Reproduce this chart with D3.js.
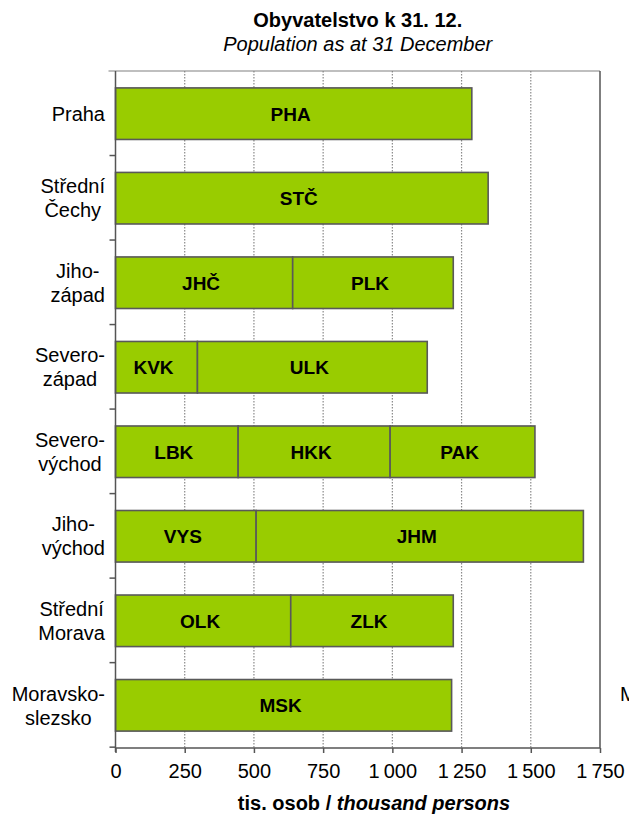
<!DOCTYPE html>
<html>
<head>
  <meta charset="utf-8">
  <title>Obyvatelstvo</title>
  <script src="https://d3js.org/d3.v7.min.js"></script>
  <style>
    body { margin: 0; background: #fff; }
    text { font-family: "Liberation Sans", Arial, sans-serif; fill: #000; }
  </style>
</head>
<body>
  <div id="container"></div>
  <script>
    // regions (NUTS 2) and their kraje, thousand persons
    var regionLines = [
      ['Praha'], ['Střední', 'Čechy'], ['Jiho-', 'západ'], ['Severo-', 'západ'],
      ['Severo-', 'východ'], ['Jiho-', 'východ'], ['Střední', 'Morava'], ['Moravsko-', 'slezsko']
    ];
    var kraje = [
      ['PHA'], ['STČ'], ['JHČ', 'PLK'], ['KVK', 'ULK'],
      ['LBK', 'HKK', 'PAK'], ['VYS', 'JHM'], ['OLK', 'ZLK'], ['MSK']
    ];
    var values = [
      [1287], [1346], [640, 580], [296, 830],
      [443, 549, 523], [508, 1182], [633, 587], [1214]
    ];
    var xTicks = [0, 250, 500, 750, 1000, 1250, 1500, 1750];

    var width = 629, height = 816;
    var plotLeft = 115.5, plotRight = 600, plotTop = 71, plotBottom = 748;

    var svg = d3.select('#container').append('svg')
      .attr('width', width)
      .attr('height', height);

    var x = d3.scaleLinear().domain([0, 1750]).range([plotLeft, plotRight]);
    var y = d3.scaleBand().domain(d3.range(regionLines.length))
      .range([plotTop, plotBottom]).paddingInner(0.39).paddingOuter(0.2);

    var fmt = d3.formatLocale({decimal: ',', thousands: '\u2009', grouping: [3], currency: ['', '']}).format(',d');

    // grid
    svg.append('g').selectAll('line')
      .data(xTicks.slice(1, -1))
      .enter().append('line')
      .attr('x1', d => x(d)).attr('x2', d => x(d))
      .attr('y1', plotTop).attr('y2', plotBottom)
      .attr('stroke', '#8a8a8a')
      .attr('stroke-width', 1.2)
      .attr('stroke-dasharray', '1.5,1.5');

    // frame top + right
    svg.append('line')
      .attr('x1', plotLeft - 7).attr('x2', plotRight)
      .attr('y1', plotTop).attr('y2', plotTop)
      .attr('stroke', '#808080')
      .attr('stroke-width', 1.2);
    svg.append('line')
      .attr('x1', plotRight).attr('x2', plotRight)
      .attr('y1', plotTop).attr('y2', plotBottom)
      .attr('stroke', '#555')
      .attr('stroke-width', 1.5);

    // stacked bars
    var rows = svg.append('g').selectAll('g')
      .data(values)
      .enter().append('g');

    rows.each(function(vals, i) {
      var g = d3.select(this);
      var segs = [], acc = 0;
      vals.forEach(function(v, j) {
        segs.push({x0: acc, x1: acc + v, name: kraje[i][j]});
        acc += v;
      });
      g.selectAll('rect').data(segs).enter().append('rect')
        .attr('x', d => x(d.x0))
        .attr('y', y(i))
        .attr('width', d => x(d.x1) - x(d.x0))
        .attr('height', y.bandwidth())
        .attr('fill', '#99cc00')
        .attr('stroke', '#595959')
        .attr('stroke-width', 1.6);
      g.selectAll('text').data(segs).enter().append('text')
        .attr('x', d => (x(d.x0) + x(d.x1)) / 2 - 3)
        .attr('y', y(i) + y.bandwidth() / 2)
        .attr('dy', '0.36em')
        .attr('text-anchor', 'middle')
        .style('font-size', '19px')
        .style('font-weight', 'bold')
        .text(d => d.name);
    });

    // y axis
    var yAxis = svg.append('g');
    yAxis.append('line')
      .attr('x1', plotLeft).attr('x2', plotLeft)
      .attr('y1', plotTop).attr('y2', plotBottom + 4)
      .attr('stroke', '#555').attr('stroke-width', 1.5);
    yAxis.selectAll('.tk')
      .data(d3.range(1, regionLines.length + 1))
      .enter().append('line')
      .attr('class', 'tk')
      .attr('x1', plotLeft - 6).attr('x2', plotLeft)
      .attr('y1', d => plotTop + d * y.step()).attr('y2', d => plotTop + d * y.step())
      .attr('stroke', '#555').attr('stroke-width', 1.5);

    var cats = svg.append('g').selectAll('g')
      .data(regionLines)
      .enter().append('g');
    cats.each(function(lines, i) {
      var g = d3.select(this);
      var lh = 24;
      var cy = y(i) + y.bandwidth() / 2 - (lines.length - 1) * lh / 2;
      var t = g.selectAll('text').data(lines).enter().append('text')
        .attr('text-anchor', 'middle')
        .attr('y', (d, k) => cy + k * lh)
        .attr('dy', '0.36em')
        .style('font-size', '20px')
        .text(d => d);
      var w = d3.max(t.nodes(), n => n.getComputedTextLength());
      t.attr('x', 105 - w / 2);
    });

    // x axis
    var xAxis = svg.append('g')
      .attr('transform', `translate(0,${plotBottom})`)
      .call(d3.axisBottom(x).tickValues(xTicks).tickFormat(fmt).tickSize(5).tickPadding(11));
    xAxis.select('.domain').attr('stroke', '#555').attr('stroke-width', 1.5)
      .attr('d', `M${plotLeft},0H${plotRight}`);
    xAxis.selectAll('.tick line').attr('stroke', '#555').attr('stroke-width', 1.5);
    xAxis.selectAll('text')
      .style('font-family', '"Liberation Sans", Arial, sans-serif')
      .style('font-size', '20px')
      .attr('fill', '#000');

    // titles
    var cx = (plotLeft + plotRight) / 2;
    svg.append('text')
      .attr('x', cx).attr('y', 27)
      .attr('text-anchor', 'middle')
      .style('font-size', '20px').style('font-weight', 'bold')
      .text('Obyvatelstvo k 31. 12.');
    svg.append('text')
      .attr('x', cx).attr('y', 51)
      .attr('text-anchor', 'middle')
      .style('font-size', '20px').style('font-style', 'italic')
      .text('Population as at 31 December');

    var xt = svg.append('text')
      .attr('x', 374).attr('y', 810)
      .attr('text-anchor', 'middle')
      .style('font-size', '20px').style('font-weight', 'bold');
    xt.append('tspan').text('tis. osob / ');
    xt.append('tspan').style('font-style', 'italic').text('thousand persons');

    // cut-off label at the right edge
    svg.append('text')
      .attr('x', 620).attr('y', 701)
      .style('font-size', '20px')
      .text('M');
  </script>
</body>
</html>
